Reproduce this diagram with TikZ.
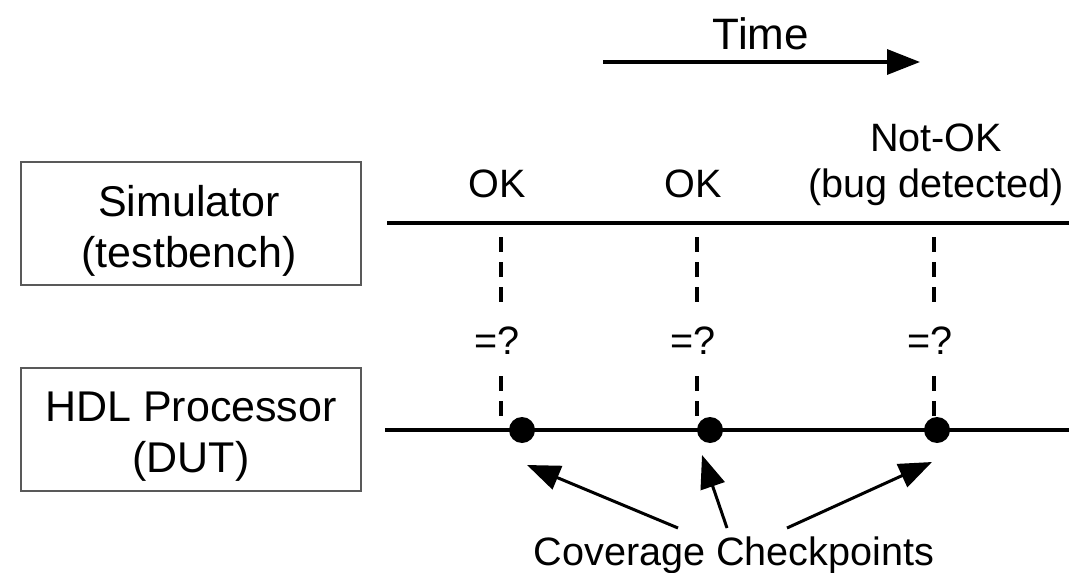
\documentclass[tikz,border=0pt]{standalone}
\usepackage{fontspec}
\setmainfont{Liberation Sans}
\usetikzlibrary{arrows.meta}

\begin{document}
\begin{tikzpicture}[x = 0.5pt, y = -0.5pt,
        unitbox/.style = {draw = black!65, line width = 0.6pt, minimum width = 170pt, minimum height = 61.5pt, inner sep = 0pt},
        boxtext/.style = {font = \fontsize{21.5}{25.5}\selectfont, align = center, anchor = base, inner sep = 0pt},
        stattext/.style = {font = \fontsize{19.8}{23}\selectfont, align = center, anchor = base, inner sep = 0pt},
        cmptext/.style = {font = \fontsize{19.8}{23}\selectfont, inner sep = 0pt, minimum height = 35pt},
        track/.style = {line width = 1.6pt},
        cmpline/.style = {line width = 1.6pt, dash pattern = on 7.5pt off 5pt},
        chk/.style = {circle, fill = black, minimum size = 13pt, inner sep = 0pt},
        pointer/.style = {line width = 1.5pt, -{Triangle[length = 16.5pt, width = 12.5pt]}}]
        \useasboundingbox (0,0) rectangle (1069,572);

        \node[font = \fontsize{22}{26}\selectfont, anchor = base, inner sep = 0pt] (time) at (761,50) {Time};
        \coordinate (tbeg) at (603,62);
        \coordinate (tend) at (920,62);
        \draw[pointer, line width = 1.7pt] (tbeg) -- (tend);

        \node[unitbox] (sim) at (191,223.5) {};
        \node[boxtext] (simtxt) at (189,267) {Simulator\\(testbench)};
        \node[unitbox] (dut) at (191,429.5) {};
        \node[boxtext] (duttxt) at (191,472) {HDL Processor\\(DUT)};

        \coordinate (simL) at (387,223);
        \coordinate (simR) at (1069,223);
        \draw[track] (simL) -- (simR);
        \coordinate (dutL) at (385,430);
        \coordinate (dutR) at (1069,430);
        \draw[track] (dutL) -- (dutR);

        \node[stattext] (ok1) at (497,198) {OK};
        \node[stattext] (ok2) at (693,198) {OK};
        \node[stattext] (nok) at (936,198) {Not-OK\\(bug detected)};

        \node[chk] (cp1) at (522,430) {};
        \node[chk] (cp2) at (710,430) {};
        \node[chk] (cp3) at (937,430) {};

        \coordinate (t1) at (501,237);
        \coordinate (t2) at (697,237);
        \coordinate (t3) at (934,237);
        \node[cmptext] (q1) at (497,341) {=?};
        \node[cmptext] (q2) at (693,341) {=?};
        \node[cmptext] (q3) at (930,341) {=?};
        \coordinate (b1) at (501,418);
        \coordinate (b2) at (697,418);

        \draw[cmpline] (t1) -- (t1 |- q1.north);
        \draw[cmpline] (t1 |- q1.south) -- (b1);
        \draw[cmpline] (t2) -- (t2 |- q2.north);
        \draw[cmpline] (t2 |- q2.south) -- (b2);
        \draw[cmpline] (t3) -- (t3 |- q3.north);
        \draw[cmpline] (t3 |- q3.south) -- (t3 |- cp3.north);

        \node[stattext] (cov) at (734,565) {Coverage Checkpoints};
        \coordinate (f1) at (678,528);
        \coordinate (f2) at (727,528);
        \coordinate (f3) at (787,528);
        \coordinate (h1) at (527,465);
        \coordinate (h2) at (702,455);
        \coordinate (h3) at (932,462);
        \draw[pointer] (f1) -- (h1);
        \draw[pointer] (f2) -- (h2);
        \draw[pointer] (f3) -- (h3);
    \end{tikzpicture}
\end{document}
